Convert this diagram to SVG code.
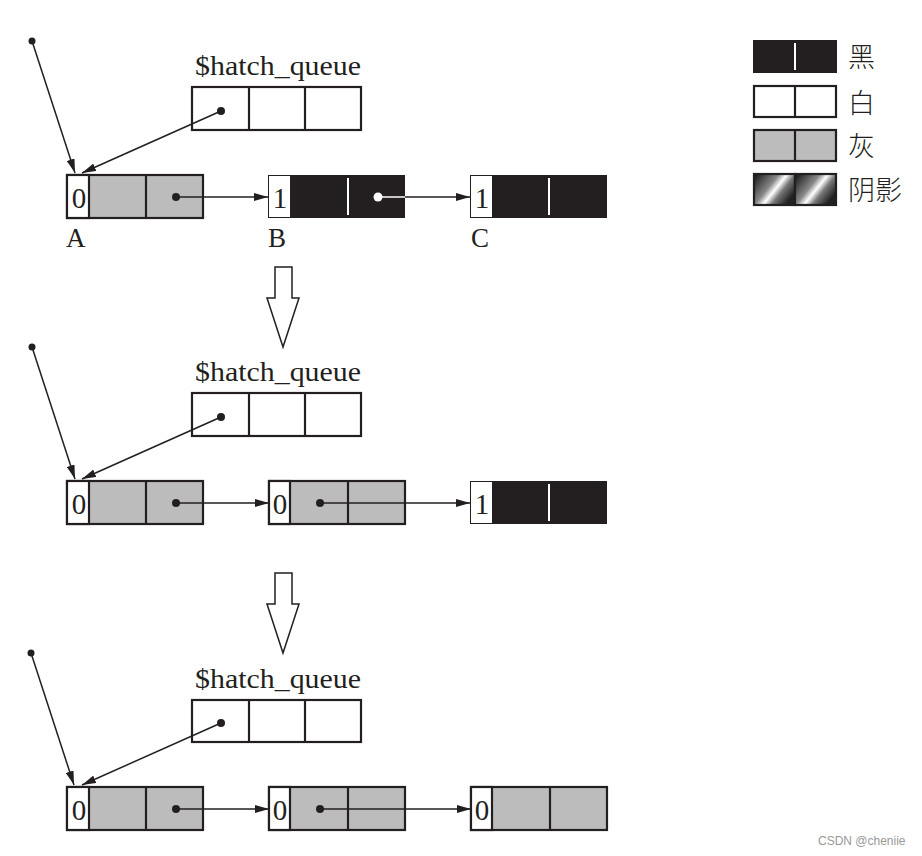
<svg xmlns="http://www.w3.org/2000/svg" width="922" height="856" viewBox="0 0 922 856">
<style>
.box{stroke:#231f20;stroke-width:2.2}
.w{fill:#fff}
.g{fill:#bcbcbc}
.k{fill:#231f20}
.ln{stroke:#231f20;stroke-width:1.5;fill:none}
.wl{stroke:#fff;stroke-width:2}
.t{font-family:"Liberation Serif","Times New Roman",serif;fill:#231f20}
.hq{font-size:27px}
.d{font-size:29px;text-anchor:middle}
.lb{font-size:27px}
.cjk{font-family:"Noto Sans CJK SC","Liberation Serif",serif;fill:#231f20;font-size:27px;font-weight:300}
.dot{fill:#231f20}
</style>
<defs>
<marker id="ah" viewBox="0 0 14 8" refX="14" refY="4" markerWidth="14" markerHeight="8" markerUnits="userSpaceOnUse" orient="auto">
<path d="M0,0 L14,4 L0,8 Z" fill="#231f20"/>
</marker>
<linearGradient id="sh" x1="0" y1="0" x2="1" y2="0.6">
<stop offset="0" stop-color="#111"/>
<stop offset="0.45" stop-color="#888"/>
<stop offset="0.6" stop-color="#fff"/>
<stop offset="0.75" stop-color="#777"/>
<stop offset="1" stop-color="#222"/>
</linearGradient>
</defs>

<!-- Legend -->
<g id="legend">
<g id="legend-black">
<rect x="753" y="40" width="84" height="33" class="k"/>
<line x1="795" y1="43" x2="795" y2="70" class="wl"/>
<text x="848" y="67" class="cjk">黑</text>
</g>
<g id="legend-white">
<rect x="754" y="86" width="82" height="31" class="box w"/>
<line x1="795" y1="86" x2="795" y2="117" class="box"/>
<text x="848" y="113" class="cjk">白</text>
</g>
<g id="legend-gray">
<rect x="754" y="130" width="82" height="31" class="box g"/>
<line x1="795" y1="130" x2="795" y2="161" class="box"/>
<text x="848" y="156" class="cjk">灰</text>
</g>
<g id="legend-shadow">
<rect x="754" y="174" width="41" height="31" class="box" fill="url(#sh)"/>
<rect x="795" y="174" width="41" height="31" class="box" fill="url(#sh)"/>
<text x="848" y="200" class="cjk">阴影</text>
</g>
</g>

<!-- Row 1 -->
<g id="row1">
<g id="hq1">
<text x="195" y="75" class="t hq" textLength="166" lengthAdjust="spacingAndGlyphs">$hatch_queue</text>
<rect x="192" y="87" width="169" height="43" class="box w"/>
<line x1="249" y1="87" x2="249" y2="130" class="box"/>
<line x1="305" y1="87" x2="305" y2="130" class="box"/>
</g>
<g id="A1">
<rect x="67" y="175" width="136" height="43" class="box g"/>
<rect x="67" y="175" width="22" height="43" class="box w"/>
<line x1="146" y1="175" x2="146" y2="218" class="box"/>
<text x="79" y="208" class="t d">0</text>
<text x="66" y="247" class="t lb">A</text>
</g>
<g id="B1">
<rect x="268" y="175" width="137" height="43" class="k"/>
<rect x="269" y="176" width="21" height="41" class="w"/>
<line x1="348" y1="178" x2="348" y2="215" class="wl"/>
<text x="280" y="208" class="t d">1</text>
<text x="268" y="247" class="t lb">B</text>
</g>
<g id="C1">
<rect x="470" y="175" width="137" height="43" class="k"/>
<rect x="471" y="176" width="21" height="41" class="w"/>
<line x1="549" y1="178" x2="549" y2="215" class="wl"/>
<text x="482" y="208" class="t d">1</text>
<text x="471" y="247" class="t lb">C</text>
</g>
</g>

<!-- Row 2 -->
<g id="row2">
<g id="hq2">
<text x="195" y="381" class="t hq" textLength="166" lengthAdjust="spacingAndGlyphs">$hatch_queue</text>
<rect x="192" y="393" width="169" height="43" class="box w"/>
<line x1="249" y1="393" x2="249" y2="436" class="box"/>
<line x1="305" y1="393" x2="305" y2="436" class="box"/>
</g>
<g id="A2">
<rect x="67" y="481" width="136" height="43" class="box g"/>
<rect x="67" y="481" width="22" height="43" class="box w"/>
<line x1="146" y1="481" x2="146" y2="524" class="box"/>
<text x="79" y="514" class="t d">0</text>
</g>
<g id="B2">
<rect x="269" y="481" width="136" height="43" class="box g"/>
<rect x="269" y="481" width="21" height="43" class="box w"/>
<line x1="348" y1="481" x2="348" y2="524" class="box"/>
<text x="280" y="514" class="t d">0</text>
</g>
<g id="C2">
<rect x="470" y="481" width="137" height="43" class="k"/>
<rect x="471" y="482" width="21" height="41" class="w"/>
<line x1="549" y1="484" x2="549" y2="521" class="wl"/>
<text x="482" y="514" class="t d">1</text>
</g>
</g>

<!-- Row 3 -->
<g id="row3">
<g id="hq3">
<text x="195" y="688" class="t hq" textLength="166" lengthAdjust="spacingAndGlyphs">$hatch_queue</text>
<rect x="192" y="700" width="169" height="42" class="box w"/>
<line x1="249" y1="700" x2="249" y2="742" class="box"/>
<line x1="305" y1="700" x2="305" y2="742" class="box"/>
</g>
<g id="A3">
<rect x="67" y="787" width="136" height="43" class="box g"/>
<rect x="67" y="787" width="22" height="43" class="box w"/>
<line x1="146" y1="787" x2="146" y2="830" class="box"/>
<text x="79" y="820" class="t d">0</text>
</g>
<g id="B3">
<rect x="269" y="787" width="136" height="43" class="box g"/>
<rect x="269" y="787" width="21" height="43" class="box w"/>
<line x1="348" y1="787" x2="348" y2="830" class="box"/>
<text x="280" y="820" class="t d">0</text>
</g>
<g id="C3">
<rect x="471" y="787" width="136" height="43" class="box g"/>
<rect x="471" y="787" width="21" height="43" class="box w"/>
<line x1="550" y1="787" x2="550" y2="830" class="box"/>
<text x="482" y="820" class="t d">0</text>
</g>
</g>

<!-- Transition arrows -->
<g id="step1">
<path d="M275,267 L292,267 L292,298 L299,298 L283,347 L267,298 L275,298 Z" fill="#fff" stroke="#231f20" stroke-width="1.5"/>
</g>
<g id="step2">
<path d="M275,573 L292,573 L292,604 L299,604 L283,653 L267,604 L275,604 Z" fill="#fff" stroke="#231f20" stroke-width="1.5"/>
</g>

<!-- Connectors -->
<g id="connectors">
<circle cx="32" cy="41" r="3.5" class="dot"/>
<line x1="32" y1="41" x2="75" y2="173" class="ln" marker-end="url(#ah)"/>
<circle cx="221" cy="111" r="4" class="dot"/>
<line x1="221" y1="111" x2="82" y2="173" class="ln" marker-end="url(#ah)"/>
<circle cx="176" cy="197" r="4" class="dot"/>
<line x1="176" y1="197" x2="268" y2="197" class="ln" marker-end="url(#ah)"/>
<circle cx="378" cy="197" r="4.5" fill="#fff"/>
<line x1="378" y1="197" x2="405" y2="197" stroke="#fff" stroke-width="1.5"/>
<line x1="405" y1="197" x2="470" y2="197" class="ln" marker-end="url(#ah)"/>

<circle cx="32" cy="347" r="3.5" class="dot"/>
<line x1="32" y1="347" x2="75" y2="479" class="ln" marker-end="url(#ah)"/>
<circle cx="221" cy="417" r="4" class="dot"/>
<line x1="221" y1="417" x2="82" y2="479" class="ln" marker-end="url(#ah)"/>
<circle cx="176" cy="503" r="4" class="dot"/>
<line x1="176" y1="503" x2="269" y2="503" class="ln" marker-end="url(#ah)"/>
<circle cx="320" cy="503" r="4" class="dot"/>
<line x1="320" y1="503" x2="470" y2="503" class="ln" marker-end="url(#ah)"/>

<circle cx="31" cy="653" r="3.5" class="dot"/>
<line x1="31" y1="653" x2="74" y2="785" class="ln" marker-end="url(#ah)"/>
<circle cx="221" cy="723" r="4" class="dot"/>
<line x1="221" y1="723" x2="82" y2="785" class="ln" marker-end="url(#ah)"/>
<circle cx="176" cy="809" r="4" class="dot"/>
<line x1="176" y1="809" x2="269" y2="809" class="ln" marker-end="url(#ah)"/>
<circle cx="320" cy="809" r="4" class="dot"/>
<line x1="320" y1="809" x2="471" y2="809" class="ln" marker-end="url(#ah)"/>
</g>

<text x="818" y="845" font-family="Liberation Sans,Arial,sans-serif" font-size="12" fill="#999">CSDN @cheniie</text>
</svg>
